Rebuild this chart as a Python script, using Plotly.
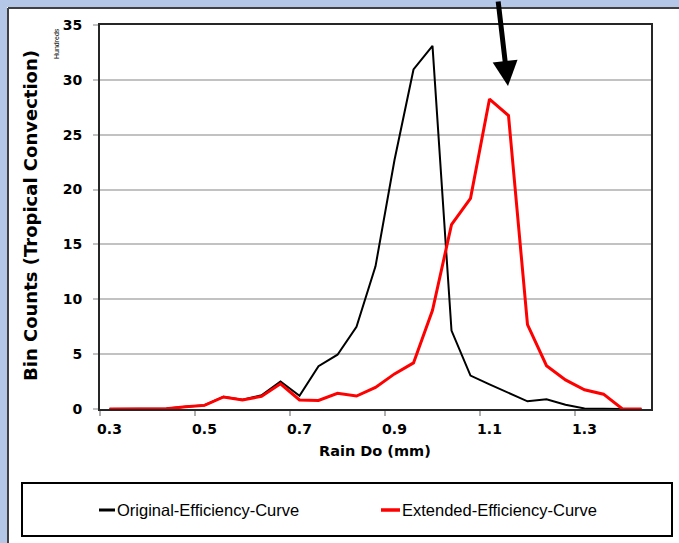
import plotly.graph_objects as go

# Rain drop median diameter bins (mm)
rain_do_mm = [0.30, 0.34, 0.38, 0.42, 0.46, 0.50, 0.54, 0.58, 0.62, 0.66,
              0.70, 0.74, 0.78, 0.82, 0.86, 0.90, 0.94, 0.98, 1.02, 1.06,
              1.10, 1.14, 1.18, 1.22, 1.26, 1.30, 1.34, 1.38, 1.42]

# Bin counts in hundreds
original_counts = [0.0, 0.0, 0.0, 0.05, 0.2, 0.35, 1.12, 0.85, 1.25, 2.5,
                   1.2, 3.9, 4.95, 7.5, 13.0, 22.7, 30.95, 33.1, 7.15, 3.05,
                   2.25, 1.5, 0.7, 0.88, 0.38, 0.05, 0.0, 0.0, 0.0]
extended_counts = [0.0, 0.0, 0.0, 0.02, 0.2, 0.33, 1.1, 0.82, 1.15, 2.3,
                   0.82, 0.78, 1.43, 1.18, 1.97, 3.2, 4.2, 9.0, 16.8, 19.2,
                   28.25, 26.75, 7.7, 3.95, 2.65, 1.75, 1.35, 0.0, 0.0]

x_tick_values = [0.3, 0.5, 0.7, 0.9, 1.1, 1.3]
x_tick_labels = ["0.3", "0.5", "0.7", "0.9", "1.1", "1.3"]
y_tick_values = [0, 5, 10, 15, 20, 25, 30, 35]

series_names = ["Original-Efficiency-Curve", "Extended-Efficiency-Curve"]
series_colors = ["#000000", "#FF0000"]

W, H = 679, 543
L, R, T, B = 100, 28, 25, 134
PW, PH = W - L - R, H - T - B
SLIDE_BLUE = "#B4C7E7"
GRID = "#C2C2C2"


def px(x):
    return (x - L) / PW


def py(y):
    return (H - B - y) / PH


BOLD = "DejaVu Sans"
REG = "Liberation Sans"

fig = go.Figure()
fig.add_trace(go.Scatter(x=rain_do_mm, y=original_counts, mode="lines",
                         name=series_names[0],
                         line=dict(color=series_colors[0], width=2)))
fig.add_trace(go.Scatter(x=rain_do_mm, y=extended_counts, mode="lines",
                         name=series_names[1],
                         line=dict(color=series_colors[1], width=3)))

half_bin = (rain_do_mm[1] - rain_do_mm[0]) / 2

fig.update_xaxes(
    range=[rain_do_mm[0] - half_bin, rain_do_mm[-1] + half_bin],
    tickmode="array", tickvals=x_tick_values, ticktext=x_tick_labels,
    ticks="", showgrid=False, zeroline=False,
    showline=True, mirror=True, linecolor="#262626", linewidth=2,
    tickfont=dict(family=BOLD, size=14, color="#000000", weight="bold"),
    ticklabelstandoff=6,
    minor=dict(tickmode="array", tickvals=[v - half_bin for v in x_tick_values],
               ticks="outside", ticklen=5, tickcolor="#B0B0B0", tickwidth=1.5,
               showgrid=False),
)
fig.update_yaxes(
    range=[0, 35], tickmode="array", tickvals=y_tick_values,
    ticks="outside", ticklen=5, tickcolor=GRID, tickwidth=1.5,
    showgrid=True, gridcolor=GRID, gridwidth=1.5, zeroline=False,
    showline=True, mirror=True, linecolor="#262626", linewidth=2,
    tickfont=dict(family=BOLD, size=14, color="#000000", weight="bold"),
    ticklabelstandoff=8,
)

shapes = [
    # blue slide margin along the left and top edges
    dict(type="rect", xref="paper", yref="paper", layer="below",
         x0=px(-5), x1=px(7), y0=py(H + 5), y1=py(-5),
         fillcolor=SLIDE_BLUE, line=dict(width=0)),
    dict(type="rect", xref="paper", yref="paper", layer="below",
         x0=px(-5), x1=px(W + 5), y0=py(7), y1=py(-5),
         fillcolor=SLIDE_BLUE, line=dict(width=0)),
    # chart area border
    dict(type="line", xref="paper", yref="paper",
         x0=px(8), x1=px(8), y0=py(8), y1=py(H + 5),
         line=dict(color="#404040", width=2)),
    dict(type="line", xref="paper", yref="paper",
         x0=px(8), x1=px(W + 5), y0=py(8), y1=py(8),
         line=dict(color="#404040", width=2)),
    # legend frame
    dict(type="rect", xref="paper", yref="paper",
         x0=px(22), x1=px(672), y0=py(536), y1=py(483),
         fillcolor="rgba(0,0,0,0)", line=dict(color="#000000", width=2)),
    # legend keys
    dict(type="line", xref="paper", yref="paper",
         x0=px(99), x1=px(115), y0=py(510), y1=py(510),
         line=dict(color=series_colors[0], width=3)),
    dict(type="line", xref="paper", yref="paper",
         x0=px(381), x1=px(400), y0=py(510), y1=py(510),
         line=dict(color=series_colors[1], width=3.5)),
]

annotations = [
    dict(text="Bin Counts (Tropical Convection)", xref="paper", yref="paper",
         x=px(30), y=py(216), textangle=-90, showarrow=False,
         xanchor="center", yanchor="middle",
         font=dict(family=BOLD, size=18, color="#000000", weight="bold")),
    dict(text="Hundreds", xref="paper", yref="paper",
         x=px(57), y=py(44), textangle=-90, showarrow=False,
         xanchor="center", yanchor="middle",
         font=dict(family=REG, size=7, color="#000000")),
    dict(text="Rain Do (mm)", xref="paper", yref="paper",
         x=px(375), y=py(451), showarrow=False,
         xanchor="center", yanchor="middle",
         font=dict(family=BOLD, size=14.5, color="#000000", weight="bold")),
    dict(text=series_names[0], xref="paper", yref="paper",
         x=px(115), y=py(510), showarrow=False,
         xanchor="left", yanchor="middle",
         font=dict(family=REG, size=16.5, color="#000000")),
    dict(text=series_names[1], xref="paper", yref="paper",
         x=px(400), y=py(510), showarrow=False,
         xanchor="left", yanchor="middle",
         font=dict(family=REG, size=16.5, color="#000000")),
    # pointer arrow toward the extended-curve peak
    dict(text="", xref="paper", yref="paper", x=px(508), y=py(86),
         ax=-10, ay=-92, showarrow=True, arrowhead=2, arrowsize=1,
         arrowwidth=5, arrowcolor="#000000"),
]

fig.update_layout(
    width=W, height=H,
    margin=dict(l=L, r=R, t=T, b=B),
    paper_bgcolor="#FFFFFF",
    plot_bgcolor="#FFFFFF",
    showlegend=False,
    shapes=shapes,
    annotations=annotations,
)

fig.write_html("out.html")
